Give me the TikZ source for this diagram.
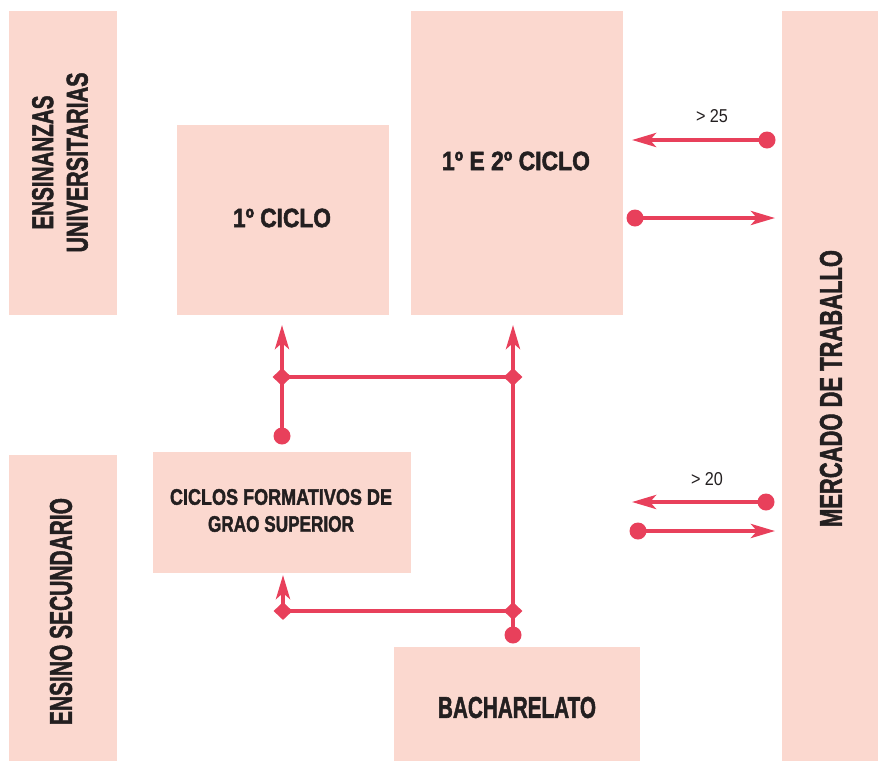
\documentclass[tikz,border=0pt]{standalone}
\usepackage{fontspec}
\setmainfont{Liberation Sans}[BoldFeatures={FakeBold=2}]
\usetikzlibrary{arrows.meta,shapes.geometric}
\definecolor{boxpink}{HTML}{FBD8CF}
\definecolor{linkred}{HTML}{E8405B}
\definecolor{inkdark}{HTML}{231F20}
\newcommand\fitt[3]{\resizebox{#1pt}{#2pt}{\bfseries #3}}
\begin{document}
\begin{tikzpicture}[x=1pt,y=-1pt,
  box/.style={fill=boxpink,draw=none,anchor=north west,inner sep=0pt},
  lbl/.style={text=inkdark,inner sep=0pt,align=center},
  dotn/.style={circle,fill=linkred,draw=none,minimum size=17pt,inner sep=0pt},
  joint/.style={diamond,aspect=1,fill=linkred,draw=none,minimum width=19pt,minimum height=18pt,inner sep=0pt},
  link/.style={draw=linkred,line width=4pt},
  arr/.style={link,-{Stealth[length=24pt,width=14pt,inset=6pt]}},
  small/.style={text=inkdark,inner sep=0pt}
]
\useasboundingbox (0,0) rectangle (878,761);
% boxes
\node[box,minimum width=108pt,minimum height=304pt] (eu) at (9,11) {};
\node[box,minimum width=212pt,minimum height=190pt] (c1) at (177,125) {};
\node[box,minimum width=212pt,minimum height=304pt] (c12) at (411,11) {};
\node[box,minimum width=96pt,minimum height=750pt] (mt) at (782,11) {};
\node[box,minimum width=108pt,minimum height=306pt] (es) at (9,455) {};
\node[box,minimum width=258pt,minimum height=121pt] (cf) at (153,452) {};
\node[box,minimum width=246pt,minimum height=114pt] (ba) at (394,647) {};
% labels
\node[lbl,rotate=90,font=\fontsize{10}{34.5}\selectfont] (euT) at (60,162.5)
  {\fitt{134}{21}{ENSINANZAS}\\\fitt{180}{21}{UNIVERSITARIAS}};
\node[lbl] (c1T) at (282,218) {\fitt{98}{18.5}{1º CICLO}};
\node[lbl] (c12T) at (516,161) {\fitt{148}{18.5}{1º E 2º CICLO}};
\node[lbl,rotate=90] (mtT) at (831,388.5) {\fitt{277}{22}{MERCADO DE TRABALLO}};
\node[lbl,rotate=90] (esT) at (61,611.5) {\fitt{227}{22}{ENSINO SECUNDARIO}};
\node[lbl,font=\fontsize{10}{27}\selectfont] (cfT) at (281,510.5)
  {\fitt{222}{15.7}{CICLOS FORMATIVOS DE}\\\fitt{146}{15.7}{GRAO SUPERIOR}};
\node[lbl] (baT) at (517,707.5) {\fitt{158}{21}{BACHARELATO}};
\node[small] (g25) at (712,116.5) {\resizebox{32pt}{13pt}{> 25}};
\node[small] (g20) at (707,479) {\resizebox{32pt}{13pt}{> 20}};
% connector points
\node[dotn] (dL) at (282,436) {};
\node[dotn] (dB) at (513,635) {};
\node[joint] (jL1) at (282,377) {};
\node[joint] (jR1) at (513,377) {};
\node[joint] (jL2) at (283,611) {};
\node[joint] (jR2) at (513,611) {};
\coordinate (tL1) at (282,325);
\coordinate (tR1) at (513,325);
\coordinate (tL2) at (283,575);
% right side
\node[dotn] (d25) at (767,140) {};
\coordinate (t25) at (632,140);
\node[dotn] (dOut1) at (635,218) {};
\coordinate (tOut1) at (775,218);
\node[dotn] (d20) at (766,502) {};
\coordinate (t20) at (632,502);
\node[dotn] (dOut2) at (638,531) {};
\coordinate (tOut2) at (775,531);
% connectors
\draw[arr] (dL.center) -- (tL1);
\draw[arr] (dB.center) -- (tR1);
\draw[link] (jL1.center) -- (jR1.center);
\draw[link] (jL2.center) -- (jR2.center);
\draw[arr] (jL2.center) -- (tL2);
\draw[arr] (d25.center) -- (t25);
\draw[arr] (dOut1.center) -- (tOut1);
\draw[arr] (d20.center) -- (t20);
\draw[arr] (dOut2.center) -- (tOut2);
\end{tikzpicture}
\end{document}
